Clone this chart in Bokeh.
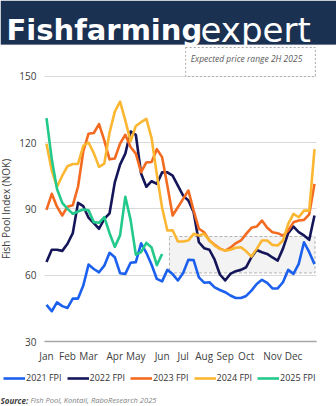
from bokeh.plotting import figure
from bokeh.models import Label, Legend, LegendItem, FixedTicker, Range1d, BoxAnnotation, Grid
from bokeh.embed import file_html
from bokeh.resources import INLINE

# ---------------- data (weekly Fish Pool Index, NOK) ----------------
weeks = list(range(1, 53))

fpi_2021 = [46.6, 43.7, 47.7, 46.0, 45.2, 49.4, 49.4, 55.3, 64.8, 62.8, 61.3, 64.3, 70.1,
            68.1, 60.9, 60.6, 65.6, 65.9, 74.4, 70.1, 64.7, 58.3, 57.2, 62.4, 60.5, 57.6,
            61.0, 67.0, 66.8, 59.0, 56.6, 56.8, 54.5, 53.3, 52.3, 50.8, 49.7, 49.7, 50.6,
            53.0, 56.0, 57.9, 56.5, 54.0, 54.0, 56.8, 62.4, 60.6, 65.1, 74.9, 70.4, 65.0]

fpi_2022 = [66.0, 71.5, 71.5, 71.0, 74.2, 79.0, 92.7, 91.2, 86.0, 83.5, 81.0, 85.5, 88.0,
            102.0, 110.0, 115.0, 125.0, 123.5, 106.0, 100.0, 102.5, 101.3, 106.5, 106.5,
            105.0, 100.5, 96.0, 93.8, 88.5, 74.9, 72.2, 71.5, 67.0, 60.3, 57.6, 60.6, 61.8,
            62.4, 63.6, 68.1, 71.4, 70.4, 69.6, 68.0, 66.6, 72.0, 79.0, 82.0, 79.5, 78.0,
            76.0, 87.0]

fpi_2023 = [89.5, 96.8, 91.0, 87.0, 91.0, 91.6, 100.0, 116.0, 124.0, 124.3, 128.3, 121.0,
            112.4, 112.8, 119.5, 123.5, 118.0, 115.0, 106.6, 111.0, 111.2, 117.0, 113.4,
            100.5, 87.0, 90.7, 94.5, 98.3, 89.2, 81.0, 79.4, 75.7, 73.8, 72.0, 71.1, 72.4,
            74.4, 75.7, 78.7, 81.4, 82.0, 84.7, 81.4, 79.4, 79.0, 77.9, 80.2, 83.9, 84.7,
            85.0, 87.5, 101.3]

fpi_2024 = [119.4, 107.3, 100.0, 105.0, 109.3, 110.3, 110.3, 118.5, 120.0, 115.2, 109.0,
            110.5, 124.5, 134.0, 138.5, 130.0, 120.5, 127.5, 129.2, 130.7, 122.0, 105.5,
            90.5, 80.2, 80.3, 75.2, 75.2, 75.7, 78.7, 78.0, 78.7, 75.7, 73.4, 71.9, 71.1,
            71.5, 72.4, 72.6, 70.8, 68.4, 71.9, 75.7, 75.7, 73.7, 73.4, 75.7, 83.2, 87.7,
            86.2, 89.2, 89.2, 117.0]

fpi_2025 = [131.0, 112.5, 99.0, 92.7, 90.0, 87.8, 88.8, 89.7, 89.3, 84.0, 83.7, 86.3, 79.0,
            72.8, 78.0, 95.5, 85.0, 69.3, 70.4, 74.6, 72.5, 64.5, 69.6]

series_names = ["2021 FPI", "2022 FPI", "2023 FPI", "2024 FPI", "2025 FPI"]
series_colors = ["#1c60ee", "#15165a", "#f36b21", "#fbb731", "#22c98b"]

month_ticks = [1, 5, 9, 14, 18, 23, 27, 31, 35, 39, 44, 48]
month_labels = ["Jan", "Feb", "Mar", "Apr", "May", "Jun", "Jul", "Aug", "Sep", "Oct", "Nov", "Dec"]
y_ticks = [30, 60, 90, 120, 150]

# expected price range 2H 2025
range_low = [61.0]
range_high = [77.5]
range_start = [24.4]
range_end = [52.1]

FONT = "Open Sans"
TXT = "#404040"
NAVY = "#1b3152"

W, H = 336, 406
X0, X1 = 0.62, 52.38
Y0, Y1 = 30, 150
x_range = Range1d(-7.754, 56.187)
y_range = Range1d(0.60, 184.24)
HEADER_BOTTOM = 164.2

p = figure(width=W, height=H, x_range=x_range, y_range=y_range,
           toolbar_location=None, output_backend="svg", min_border=0)
p.outline_line_color = None
p.background_fill_color = "white"
p.border_fill_color = "white"

# header banner
p.add_layout(BoxAnnotation(bottom=HEADER_BOTTOM, fill_color=NAVY, fill_alpha=1,
                           line_color="#c8ced6", line_width=1, level="underlay"))
p.add_layout(Label(x=6, y=H - 29.5, x_units="screen", y_units="screen", text="Fishfarming",
                   text_font="DejaVu Sans", text_font_style="bold", text_font_size="29px",
                   text_color="white", text_baseline="alphabetic"))
p.add_layout(Label(x=200, y=H - 29.5, x_units="screen", y_units="screen", text="expert",
                   text_font="DejaVu Sans", text_font_style="normal", text_font_size="34px",
                   text_color="white", text_baseline="alphabetic"))

yax = p.yaxis[0]
yax.fixed_location = X0
yax.bounds = (Y0, Y1)
yax.ticker = FixedTicker(ticks=y_ticks)
yax.axis_line_color = None
yax.major_tick_line_color = None
yax.major_tick_out = 0
yax.major_tick_in = 0
yax.minor_tick_line_color = None
yax.major_label_text_font = FONT
yax.major_label_text_font_size = "10px"
yax.major_label_text_color = TXT
yax.major_label_standoff = 8
yax.axis_label = "Fish Pool Index (NOK)"
yax.axis_label_text_font = FONT
yax.axis_label_text_font_style = "normal"
yax.axis_label_text_font_size = "10px"
yax.axis_label_text_color = TXT
yax.axis_label_standoff = 3

xax = p.xaxis[0]
xax.fixed_location = Y0
xax.bounds = (X0, X1)
xax.ticker = FixedTicker(ticks=month_ticks)
xax.major_label_overrides = {t: l for t, l in zip(month_ticks, month_labels)}
xax.axis_line_color = "#a6a6a6"
xax.axis_line_width = 1.5
xax.major_tick_line_color = None
xax.major_tick_out = 0
xax.major_tick_in = 0
xax.minor_tick_line_color = None
xax.major_label_text_font = FONT
xax.major_label_text_font_size = "10px"
xax.major_label_text_color = TXT
xax.major_label_standoff = 7

p.xgrid.visible = False
yg = p.ygrid[0]
yg.ticker = FixedTicker(ticks=y_ticks)
yg.grid_line_color = "#d9d9d9"
yg.grid_line_width = 1
yg.bounds = (Y0, Y1)
if "cross_bounds" in Grid.properties():
    yg.cross_bounds = (X0, X1)

p.quad(left=range_start, right=range_end, bottom=range_low, top=range_high,
       fill_color="#f3f3f3", line_color="#b3b3b3", line_dash="3 2", line_width=1)

all_series = [fpi_2021, fpi_2022, fpi_2023, fpi_2024, fpi_2025]
items = []
for name, col, vals in zip(series_names, series_colors, all_series):
    r = p.line(weeks[:len(vals)], vals, line_color=col, line_width=2.6, line_join="round")
    items.append(LegendItem(label=name, renderers=[r]))

legend = Legend(items=items, orientation="horizontal", location=(3, 22),
                glyph_width=22, glyph_height=12, label_standoff=1, spacing=5,
                padding=0, margin=0, border_line_color=None, background_fill_alpha=0,
                label_text_font=FONT, label_text_font_size="9px", label_text_color="#333333",
                label_height=12, label_width=10)
p.add_layout(legend, "center")

p.add_layout(Label(x=250, y=H - 61.5, x_units="screen", y_units="screen",
                   text="Expected price range 2H 2025", text_font=FONT,
                   text_font_style="italic", text_font_size="8.5px", text_color="#595959",
                   text_align="center", text_baseline="middle",
                   border_line_color="#aaaaaa", border_line_dash="2 2",
                   background_fill_color="white", padding=(5, 13, 5, 13)))

p.add_layout(Label(x=0, y=6.5, x_units="screen", y_units="screen", text="Source:",
                   text_font=FONT, text_font_style="bold italic", text_font_size="8px",
                   text_color="#404040", text_baseline="middle"))
p.add_layout(Label(x=30, y=6.5, x_units="screen", y_units="screen",
                   text="Fish Pool, Kontali, RaboResearch 2025", text_font=FONT,
                   text_font_style="italic", text_font_size="7.5px", text_color="#7f7f7f",
                   text_baseline="middle"))

open("out.html", "w").write(file_html(p, INLINE))
